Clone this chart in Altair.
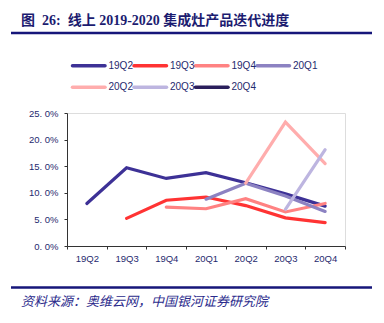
import altair as alt
import pandas as pd

quarters = ["19Q2", "19Q3", "19Q4", "20Q1", "20Q2", "20Q3", "20Q4"]
series_names = ["19Q2", "19Q3", "19Q4", "20Q1", "20Q2", "20Q3", "20Q4"]
colors = ["#3D3196", "#FF3333", "#FF8282", "#8C82C2", "#FFADAD", "#BDB5E0", "#2A1F5C"]

s_19Q2 = [8.0, 14.7, 12.7, 13.8, 11.9, 9.8, 7.5]
s_19Q3 = [None, 5.2, 8.6, 9.2, 7.6, 5.3, 4.4]
s_19Q4 = [None, None, 7.3, 7.0, 8.9, 6.4, 8.0]
s_20Q1 = [None, None, None, 8.8, 11.8, 9.4, 6.5]
s_20Q2 = [None, None, None, None, 11.8, 23.3, 15.5]
s_20Q3 = [None, None, None, None, None, 6.9, 18.1]
s_20Q4 = [None, None, None, None, None, None, None]

title_text = "图\u00a0\u00a026:\u00a0\u00a0线上 2019-2020 集成灶产品迭代进度"
source_text = "资料来源：奥维云网，中国银河证券研究院"

all_series = [s_19Q2, s_19Q3, s_19Q4, s_20Q1, s_20Q2, s_20Q3, s_20Q4]
rows = []
for si, (name, vals) in enumerate(zip(series_names, all_series)):
    for q, v in zip(quarters, vals):
        if v is not None:
            rows.append({"quarter": q, "series": name, "value": v, "order": si})
df = pd.DataFrame(rows)

# legend layout (4 columns, 2 rows), positions relative to plot origin
leg_rows = []
for i, name in enumerate(series_names):
    col, row = i % 4, i // 4
    x0 = 5.5 + col * 61.5
    leg_rows.append({"series": name, "x0": x0, "x1": x0 + 32.5, "xt": x0 + 36, "y": -47.3 + row * 21.5})
leg_df = pd.DataFrame(leg_rows)

navy = "#1F2A6E"
color_scale = alt.Scale(domain=series_names, range=colors)

lines = alt.Chart(df).mark_line(strokeWidth=3.2, strokeCap="round").encode(
    x=alt.X("quarter:N", sort=quarters, scale=alt.Scale(domain=quarters, paddingInner=0, paddingOuter=0),
            axis=alt.Axis(title=None, labelAngle=0, tickBand="extent", domainColor="#333333",
                          tickColor="#333333", tickSize=3, labelColor=navy, labelFont="Liberation Sans",
                          labelFontSize=9.5, labelPadding=4, grid=False)),
    y=alt.Y("value:Q", scale=alt.Scale(domain=[0, 25], nice=False),
            axis=alt.Axis(title=None, values=[0, 5, 10, 15, 20, 25], grid=False,
                          labelExpr="replace(format(datum.value, '.1f'), '.', '. ') + '%'",
                          domainColor="#333333", tickColor="#333333", tickSize=3,
                          labelColor=navy, labelFont="Liberation Sans", labelFontSize=9.5, labelPadding=6)),
    color=alt.Color("series:N", scale=color_scale, legend=None),
    order="order:Q",
)

leg_sym = alt.Chart(leg_df).mark_rule(strokeWidth=3.5, strokeCap="round").encode(
    x=alt.X("x0:Q", scale=None, axis=None),
    x2="x1:Q",
    y=alt.Y("y:Q", scale=None, axis=None),
    color=alt.Color("series:N", scale=color_scale, legend=None),
)
leg_txt = alt.Chart(leg_df).mark_text(
    align="left", baseline="middle", font="Liberation Sans", fontSize=10, color=navy
).encode(
    x=alt.X("xt:Q", scale=None, axis=None),
    y=alt.Y("y:Q", scale=None, axis=None),
    text="series:N",
)

one = pd.DataFrame({"a": [0]})
title_mark = alt.Chart(pd.DataFrame({"t": [title_text]})).mark_text(
    align="left", baseline="middle", font="'Liberation Serif', 'Noto Sans CJK SC'", fontWeight="bold",
    fontSize=14, color="#1C1C70"
).encode(text="t:N", x=alt.value(-46), y=alt.value(-92))
top_rule = alt.Chart(one).mark_rule(color="#16167A", strokeWidth=2.6).encode(
    x=alt.value(-56), x2=alt.value(305), y=alt.value(-80))
bottom_rule = alt.Chart(one).mark_rule(color="#16167A", strokeWidth=2.4).encode(
    x=alt.value(-56), x2=alt.value(305), y=alt.value(174.5))
source_mark = alt.Chart(pd.DataFrame({"t": [source_text]})).mark_text(
    align="left", baseline="middle", font="Noto Sans CJK SC", fontStyle="italic", fontSize=13, color="#2B2B8C"
).encode(text="t:N", x=alt.value(-46), y=alt.value(189))

chart = alt.layer(lines, leg_sym, leg_txt, title_mark, top_rule, bottom_rule, source_mark).resolve_scale(
    x="independent", y="independent"
).properties(
    width=278, height=133,
    autosize=alt.AutoSizeParams(type="none"),
    padding={"left": 67, "top": 113, "right": 39, "bottom": 77},
).configure_view(stroke=None).configure(background="white")

chart.save("out.html", embed_options={"renderer": "svg", "actions": False})
